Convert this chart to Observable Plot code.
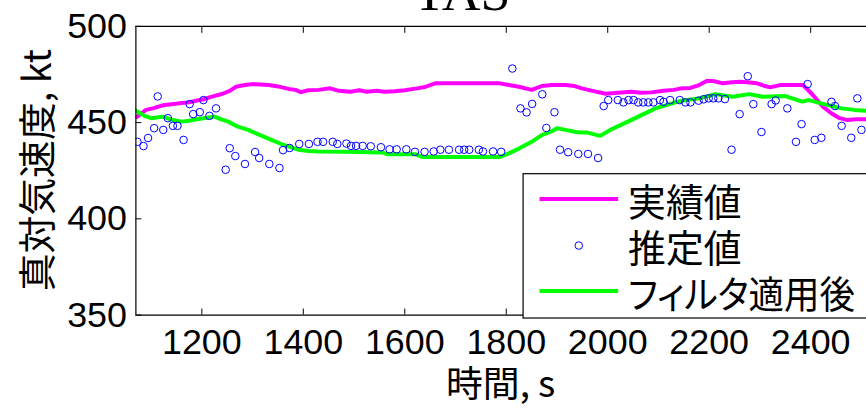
<!DOCTYPE html>
<html><head><meta charset="utf-8">
<script src="https://cdn.jsdelivr.net/npm/d3@7"></script>
<script src="https://cdn.jsdelivr.net/npm/@observablehq/plot@0.6"></script>
<style>
body{margin:0;background:#fff;overflow:hidden;}
#chart{position:relative;width:866px;height:409px;overflow:hidden;}
</style>
</head><body><div id="chart"></div>
<script>
// ---- data ----
const titleText = "TAS";
const xLabel = "時間, s";
const yLabel = "真対気速度, kt";
const seriesNames = ["実績値", "推定値", "フィルタ適用後"];
const xDomain = [1070, 2510];
const yDomain = [350, 500];
const xTicks = [1200, 1400, 1600, 1800, 2000, 2200, 2400];
const yTicks = [350, 400, 450, 500];

// 実績値 (actual)
const actualT = [1072,1090,1105,1123,1140,1155,1175,1190,1202,1220,1241,1255,1267,1285,1300,1315,1332,1350,1371,1385,1395,1410,1430,1453,1470,1493,1510,1525,1545,1560,1580,1600,1624,1640,1650,1660,1700,1750,1787,1805,1825,1850,1870,1890,1917,1935,1949,1970,1996,2020,2047,2065,2086,2110,2130,2145,2163,2180,2196,2210,2227,2245,2261,2280,2294,2310,2320,2339,2360,2385,2402,2424,2440,2457,2471,2490,2510];
const actualV = [453,456.6,457.5,459,459.5,460,460.5,461.5,462,463.5,465,466.5,468.6,469.5,470,469.8,469.5,468.8,467.5,467,465.8,466.8,467,467.8,466.5,466,466.8,466,466.5,466,466.3,466.8,467.8,468.5,469.5,470.4,470.4,470.4,470.4,469.5,468.6,467,469,469.5,469.5,469,467.8,466.5,465,465.5,466,465.5,465.7,466.5,467,467.8,468,469.5,471.7,471.5,470.4,471,471.2,470.8,470.4,469,468.3,469.5,469.5,469.5,465,458.3,455,452.3,451.4,451.7,451.7];

// 推定値 (estimated)
const estT = [1073,1085,1094,1106,1113,1124,1133,1143,1152,1164,1176,1183,1196,1203,1215,1228,1247,1255,1266,1285,1305,1313,1333,1353,1360,1373,1392,1411,1428,1439,1458,1467,1485,1494,1504,1517,1533,1553,1570,1584,1603,1620,1639,1657,1670,1687,1707,1717,1727,1746,1754,1774,1790,1812,1828,1840,1851,1871,1879,1895,1906,1922,1942,1961,1981,1992,2001,2020,2031,2041,2051,2060,2070,2080,2090,2103,2110,2123,2142,2153,2163,2179,2189,2199,2208,2218,2231,2244,2260,2276,2287,2303,2323,2331,2354,2371,2382,2394,2408,2421,2441,2448,2461,2480,2492,2500];
const estV = [440,437.8,442,447.1,463.6,446.2,452.3,448.3,448.3,441,459.6,454.4,455.4,461.7,453.5,457.4,425.5,436.7,432.6,428.5,434.7,431.6,428.5,426.4,435.7,436.8,438.9,438.9,440,440,440,438.9,439.1,437.9,437.9,437.9,437.7,437.2,436.1,436.1,436.1,434.8,434.8,435,435.9,435.9,435.9,435.9,435.9,435.9,435,435,434.8,478.1,457.4,455.3,459.7,464.7,447.2,455.4,435.9,434.6,433.7,433.7,431.6,458.6,461.7,461.7,460.5,461.7,461.7,460.5,460.5,460.5,460.5,461.7,460.8,461.7,461.7,460.5,460.5,461.4,462.1,462.6,462.6,462.6,462.2,435.9,454.4,474.1,459.6,445.1,459.6,461.5,457.4,440,449.2,470,441,442.1,460.8,458.6,448.3,442.1,462.6,446.2];

// フィルタ適用後 (filtered)
const filtT = [1070,1087,1100,1123,1140,1160,1175,1190,1210,1225,1240,1252,1270,1291,1315,1337,1360,1390,1410,1430,1480,1555,1565,1620,1635,1700,1787,1805,1825,1850,1870,1890,1900,1917,1940,1960,1985,2005,2047,2094,2145,2180,2212,2246,2279,2305,2350,2383,2396,2428,2461,2486,2510];
const filtV = [456.2,453.5,452.3,453.1,451.5,450.5,451,451.7,452.5,453.1,451.5,450.5,448,446.2,443.5,441,438.5,435.9,435.2,435,434.8,434.5,433.6,433.6,432.1,432.1,432.1,434,436.5,440,443.5,445.5,447.1,446.2,445,444.8,443.1,446.2,451.4,457.4,461.4,462.6,464.8,463.4,464.8,463.4,463.8,460.9,461.7,459.5,457.4,456.6,456.2];

const colors = ["#ff00ff", "#0000ff", "#00ff00"];

const actual = actualT.map((t, i) => ({t, v: actualV[i]}));
const est = estT.map((t, i) => ({t, v: estV[i]}));
const filt = filtT.map((t, i) => ({t, v: filtV[i]}));

const FONT = '"Liberation Sans", "Noto Sans CJK JP", sans-serif';
const JFONT = '"Noto Sans CJK JP", "Liberation Sans", sans-serif';
const fmt = d3.format("d");

const chart = Plot.plot({
  width: 870, height: 409,
  marginLeft: 136, marginTop: 26, marginBottom: 93, marginRight: 0,
  style: {fontFamily: FONT, background: "#fff", overflow: "visible", color: "#000"},
  x: {domain: xDomain},
  y: {domain: yDomain},
  marks: [
    Plot.line(actual, {x: "t", y: "v", stroke: colors[0], strokeWidth: 4, clip: true}),
    Plot.line(filt, {x: "t", y: "v", stroke: colors[2], strokeWidth: 4, clip: true}),
    Plot.dot(est, {x: "t", y: "v", r: 3.8, stroke: colors[1], strokeWidth: 1, fill: "none", clip: true}),
    Plot.ruleY([yDomain[0], yDomain[1]], {stroke: "#000", strokeWidth: 1.2}),
    Plot.ruleX([xDomain[0]], {stroke: "#000", strokeWidth: 1.2}),
    Plot.axisX(xTicks, {anchor: "bottom", tickSize: -6, tickFormat: () => "", label: null}),
    Plot.axisX(xTicks, {anchor: "top", tickSize: -6, tickFormat: () => "", label: null}),
    Plot.axisY(yTicks, {anchor: "left", tickSize: -6, tickFormat: () => "", label: null}),
    Plot.axisX(xTicks, {anchor: "bottom", tickSize: 0, tickPadding: 14, fontSize: 36, tickFormat: fmt, label: null}),
    Plot.axisY(yTicks, {anchor: "left", tickSize: 0, tickPadding: 9, fontSize: 36, tickFormat: fmt, label: null})
  ]
});
document.getElementById("chart").appendChild(chart);

const svg = d3.select(chart);
// title
svg.append("text").attr("x", 464).attr("y", 10).attr("text-anchor", "middle")
  .attr("font-family", '"Liberation Serif", serif').attr("font-size", 54).attr("fill", "#000").text(titleText);
// y label
svg.append("text").attr("transform", "translate(35,171) rotate(-90)").attr("text-anchor", "middle")
  .attr("dominant-baseline", "central").attr("font-family", JFONT).attr("font-size", 38).attr("fill", "#000").text(yLabel);
// x label
svg.append("text").attr("x", 503).attr("y", 399).attr("text-anchor", "middle")
  .attr("font-family", JFONT).attr("font-size", 37).attr("fill", "#000").text(xLabel);

// legend
const lg = svg.append("g");
lg.append("rect").attr("x", 525.5).attr("y", 174.5).attr("width", 400).attr("height", 145)
  .attr("fill", "#fff").attr("stroke", "#000").attr("stroke-width", 1.2);
const rowsY = [200, 246.7, 292.3];
const textWidths = [null, null, 228];
seriesNames.forEach((name, i) => {
  const cy = rowsY[i];
  if (i === 1) {
    lg.append("circle").attr("cx", 581.5).attr("cy", cy).attr("r", 3.8)
      .attr("fill", "none").attr("stroke", colors[1]).attr("stroke-width", 1);
  } else {
    lg.append("line").attr("x1", 542).attr("x2", 621).attr("y1", cy).attr("y2", cy)
      .attr("stroke", colors[i]).attr("stroke-width", 4);
  }
  const t = lg.append("text").attr("x", 631).attr("y", cy + 17).attr("text-anchor", "start")
    .attr("font-family", JFONT).attr("font-size", 38).attr("fill", "#000")
    .style("font-feature-settings", '"palt"').text(name);
  if (textWidths[i]) t.attr("textLength", textWidths[i]).attr("lengthAdjust", "spacingAndGlyphs");
});
</script>
</body></html>
